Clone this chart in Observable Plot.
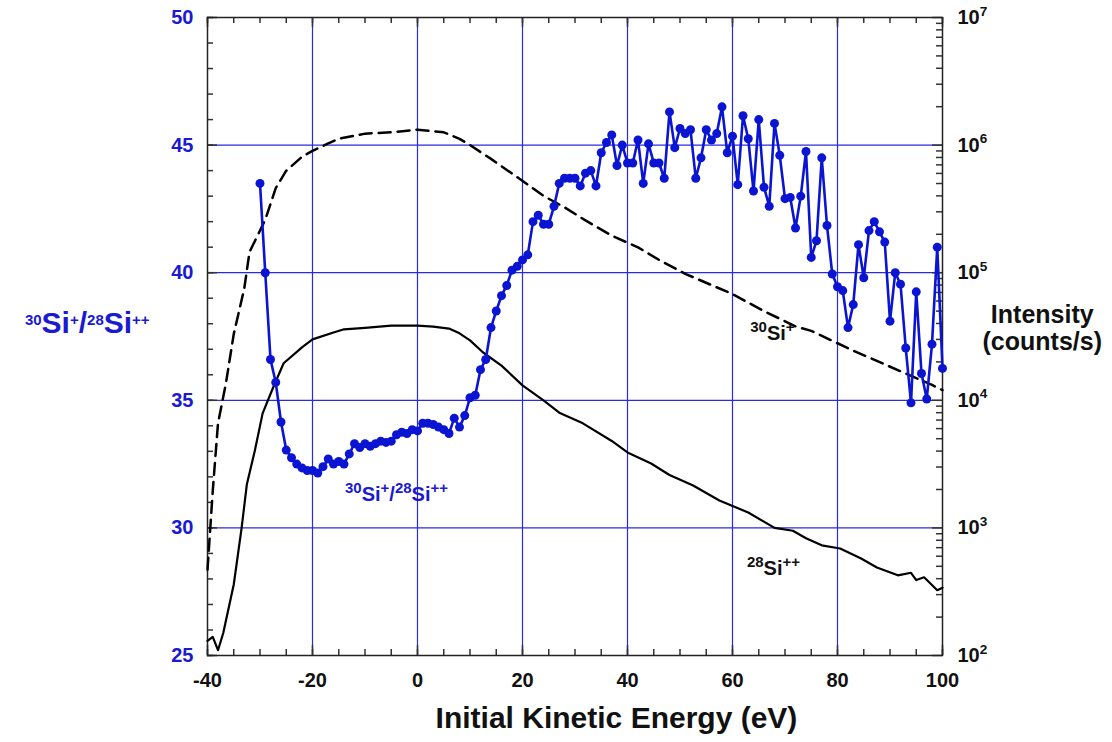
<!DOCTYPE html>
<html><head><meta charset="utf-8">
<script src="https://cdn.jsdelivr.net/npm/d3@7"></script>
<script src="https://cdn.jsdelivr.net/npm/@observablehq/plot@0.6"></script>
<style>body{margin:0;background:#fff;} svg{display:block;}</style>
</head><body><div id="chart"></div>
<script>
// ---- data ----
const ratioEnergy = [-30,-29,-28,-27,-26,-25,-24,-23,-22,-21,-20,-19,-18,-17,-16,-15,-14,-13,-12,-11,-10,-9,-8,-7,-6,-5,-4,-3,-2,-1,0,1,2,3,4,5,6,7,8,9,10,11,12,13,14,15,16,17,18,19,20,21,22,23,24,25,26,27,28,29,30,31,32,33,34,35,36,37,38,39,40,41,42,43,44,45,46,47,48,49,50,51,52,53,54,55,56,57,58,59,60,61,62,63,64,65,66,67,68,69,70,71,72,73,74,75,76,77,78,79,80,81,82,83,84,85,86,87,88,89,90,91,92,93,94,95,96,97,98,99,100];
const ratioValue = [43.5,40.0,36.6,35.7,34.15,33.05,32.75,32.5,32.35,32.25,32.25,32.15,32.4,32.7,32.5,32.6,32.5,32.9,33.3,33.15,33.3,33.2,33.3,33.4,33.35,33.4,33.65,33.75,33.7,33.85,33.8,34.1,34.1,34.05,33.95,33.85,33.7,34.3,33.95,34.4,35.1,35.2,36.2,36.6,37.85,38.5,39.1,39.5,40.1,40.25,40.5,40.7,42.0,42.25,41.9,41.9,42.6,43.5,43.7,43.7,43.7,43.4,43.9,44.0,43.4,44.7,45.1,45.4,44.2,45.0,44.3,44.3,45.2,43.5,45.05,44.3,44.3,43.7,46.3,44.9,45.65,45.45,45.6,43.7,44.5,45.6,45.2,45.45,46.5,44.7,45.35,43.45,46.15,45.25,43.2,46.0,43.35,42.6,45.85,44.6,42.9,42.95,41.75,43.0,44.75,40.6,41.25,44.5,41.85,39.95,39.45,39.3,37.85,38.75,41.1,39.8,41.65,42.0,41.6,41.2,38.1,40.0,39.55,37.05,34.9,39.25,36.05,35.05,37.2,41.0,36.25];

const si30Energy = [-40,-39,-38,-36.5,-35,-33,-32,-29,-27,-25,-22,-20,-17,-15,-10,-5,0,5,8,10,14,19,24,28,32,37,42,46,51,60,66,72,75,83,93,98,100];
const si30Intensity = [470,1950,6600,13500,33000,75000,145000,260000,460000,630000,810000,900000,1030000,1120000,1230000,1260000,1320000,1260000,1120000,1000000,780000,560000,400000,325000,257000,195000,158000,126000,98000,68000,50000,38000,35000,24500,16200,13200,12000];

const si28Energy = [-40,-39,-38,-37,-35,-33.5,-32.5,-31,-29.5,-27.5,-25.5,-22,-20,-16,-14,-10,-5,0,3,6,8,10,12.5,16,20,24,27,31.5,37,40,44.5,48,52.5,57.5,63,68,71.5,74,77,80.5,84.5,87.5,91.5,94,95,96.5,99,100];
const si28Intensity = [130,140,110,150,360,1000,2200,4000,7900,12600,19500,26000,30000,34000,36000,37000,38500,38500,37800,36500,33500,29500,23700,18700,13100,10000,8000,6600,4800,3900,3200,2600,2150,1640,1320,1000,950,830,730,690,575,490,425,445,390,410,325,340];

const xTicks = [-40,-20,0,20,40,60,80,100];
const ratioTicks = [25,30,35,40,45,50];
const intensityExponents = [2,3,4,5,6,7];

// ---- helpers ----
const BLUE = "#0a14d2";
const GRID = "#2a2ae0";
const LABEL_BLUE = "#1a1ad0";
const FONT = "'Liberation Sans', Arial, Helvetica, sans-serif";
// map an intensity (counts/s) onto the shared vertical scale: 10^2 -> 25, 10^7 -> 50
const toY = I => 25 + 5 * (Math.log10(I) - 2);

const ratioData = ratioEnergy.map((e, i) => ({e, v: ratioValue[i]}));
const si30Data = si30Energy.map((e, i) => ({e, y: toY(si30Intensity[i])}));
const si28Data = si28Energy.map((e, i) => ({e, y: toY(si28Intensity[i])}));

const majorRight = intensityExponents.map(k => toY(10 ** k));
const minorRight = [];
for (const k of intensityExponents.slice(0, -1)) for (let m = 2; m <= 9; m++) minorRight.push(toY(m * 10 ** k));

const xMinor = d3.range(-40, 101, 5);
const yMinor = d3.range(25, 51, 1);

const W = 1112, H = 742, ML = 207, MR = 170, MT = 17, MB = 87;
const FW = W - ML - MR, FH = H - MT - MB;
const tk = {stroke: "#333", strokeWidth: 1.5};
const minorLen = 6, majorLen = 10;

const plot = Plot.plot({
  width: W, height: H,
  marginLeft: ML, marginRight: MR, marginTop: MT, marginBottom: MB,
  style: {fontFamily: FONT, fontWeight: "bold", background: "#fff"},
  x: {domain: [-40, 100]},
  y: {domain: [25, 50]},
  marks: [
    Plot.ruleX([-20, 0, 20, 40, 60, 80], {stroke: GRID, strokeWidth: 1.2}),
    Plot.ruleY([30, 35, 40, 45], {stroke: GRID, strokeWidth: 1.2}),
    // inward ticks (bottom, top, left, right)
    Plot.ruleX(xMinor, {...tk, insetTop: FH - minorLen}),
    Plot.ruleX(xTicks, {...tk, insetTop: FH - majorLen}),
    Plot.ruleX(xMinor, {...tk, insetBottom: FH - minorLen}),
    Plot.ruleX(xTicks, {...tk, insetBottom: FH - majorLen}),
    Plot.ruleY(yMinor, {...tk, insetRight: FW - minorLen}),
    Plot.ruleY(ratioTicks, {...tk, insetRight: FW - majorLen}),
    Plot.ruleY(minorRight, {...tk, insetLeft: FW - minorLen}),
    Plot.ruleY(majorRight, {...tk, insetLeft: FW - majorLen}),
    // tick labels
    Plot.axisX({anchor: "bottom", ticks: xTicks, tickSize: 0, tickPadding: 17, tickFormat: d => String(d), fontSize: 20, fill: "#111", label: null}),
    Plot.axisY({anchor: "left", ticks: ratioTicks, tickSize: 0, tickPadding: 14, tickFormat: d => String(d), fontSize: 20, fill: LABEL_BLUE, label: null}),
    Plot.axisY({anchor: "right", ticks: majorRight, tickSize: 0, tickPadding: 15, tickFormat: (d, i) => "10^" + intensityExponents[i], fontSize: 20, fill: "#111", label: null}),
    Plot.frame({stroke: "#222", strokeWidth: 1.5}),
    // data
    Plot.line(si30Data, {x: "e", y: "y", stroke: "#000", strokeWidth: 2.5, strokeDasharray: "12,7"}),
    Plot.line(si28Data, {x: "e", y: "y", stroke: "#000", strokeWidth: 2.2}),
    Plot.line(ratioData, {x: "e", y: "v", stroke: BLUE, strokeWidth: 2.6}),
    Plot.dot(ratioData, {x: "e", y: "v", fill: BLUE, r: 4.5}),
    // annotations
    Plot.text(["R_IN"], {x: -4, y: 31.3, fill: LABEL_BLUE, fontSize: 20, fontWeight: "bold"}),
    Plot.text(["S30"], {x: 67.6, y: 37.6, fill: "#111", fontSize: 20, fontWeight: "bold"}),
    Plot.text(["S28"], {x: 67.8, y: 28.4, fill: "#111", fontSize: 20, fontWeight: "bold"}),
    // axis titles
    Plot.text(["R_AX"], {x: -62.9, y: 38.0, fill: LABEL_BLUE, fontSize: 30, fontWeight: "bold"}),
    Plot.text(["Intensity\n(counts/s)"], {x: 119.0, y: 37.84, fill: "#111", fontSize: 25, fontWeight: "bold", lineHeight: 1.1}),
    Plot.text(["Initial Kinetic Energy (eV)"], {x: 37.9, y: 22.55, fill: "#111", fontSize: 30, fontWeight: "bold"})
  ]
});
document.getElementById("chart").appendChild(plot);

// ---- rich text with superscripts ----
function rich(el, parts, supScale, shift) {
  const t = d3.select(el);
  const base = parseFloat(t.attr("font-size")) || 20;
  t.text(null);
  let up = false;
  for (const [s, sup] of parts) {
    const ts = t.append("tspan").text(s);
    if (sup) {
      ts.attr("font-size", base * supScale);
      if (!up) { ts.attr("dy", -base * shift); up = true; }
    } else if (up) { ts.attr("dy", base * shift); up = false; }
  }
}
const ratioParts = [["30", 1], ["Si", 0], ["+", 1], ["/", 0], ["28", 1], ["Si", 0], ["++", 1]];
const richMap = {
  "R_IN": ratioParts,
  "R_AX": ratioParts,
  "S30": [["30", 1], ["Si", 0], ["+", 1]],
  "S28": [["28", 1], ["Si", 0], ["++", 1]]
};
plot.querySelectorAll("text").forEach(el => {
  const s = el.textContent;
  if (richMap[s]) rich(el, richMap[s], 0.75, 0.42);
  const m = /^10\^(\d)$/.exec(s);
  if (m) rich(el, [["10", 0], [m[1], 1]], 0.68, 0.42);
});
</script>
</body></html>
